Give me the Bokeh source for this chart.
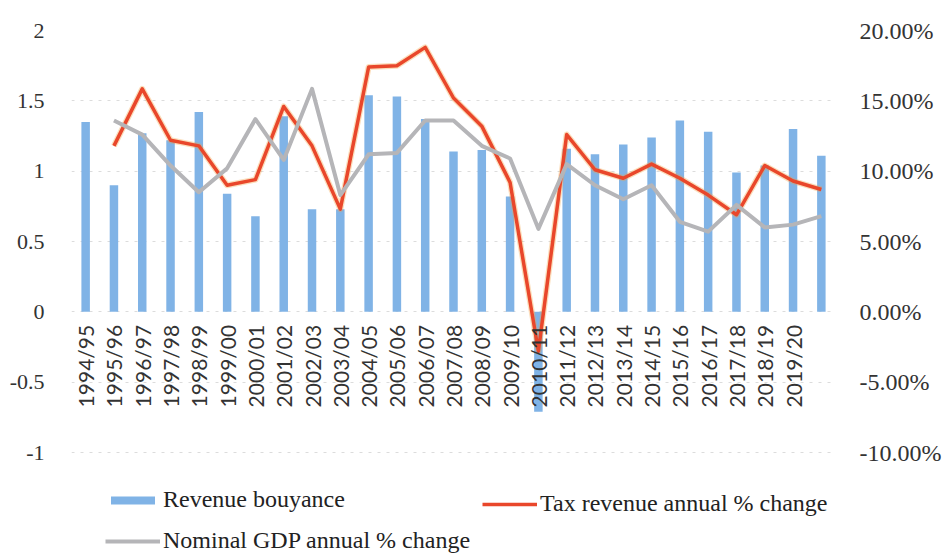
import math
from bokeh.plotting import figure
from bokeh.models import Range1d, LinearAxis, FixedTicker, Legend, LegendItem
from bokeh.core.properties import value
from bokeh.embed import file_html
from bokeh.resources import INLINE

# ---- data ----
tick_labels = ["1994/95", "1995/96", "1996/97", "1997/98", "1998/99", "1999/00",
               "2000/01", "2001/02", "2002/03", "2003/04", "2004/05", "2005/06",
               "2006/07", "2007/08", "2008/09", "2009/10", "2010/11", "2011/12",
               "2012/13", "2013/14", "2014/15", "2015/16", "2016/17", "2017/18",
               "2018/19", "2019/20"]
# 27 periods (the last one, 2020/21, carries no label in the original)
revenue_buoyancy = [1.35, 0.90, 1.27, 1.22, 1.42, 0.84, 0.68, 1.39, 0.73, 0.73,
                    1.54, 1.53, 1.37, 1.14, 1.15, 0.82, -0.71, 1.16, 1.12, 1.19,
                    1.24, 1.36, 1.28, 0.99, 1.04, 1.30, 1.11]
# lines start with 1995/96
tax_revenue_pct = [11.8, 15.85, 12.2, 11.8, 9.0, 9.4, 14.6, 11.8, 7.3, 17.4,
                   17.5, 18.8, 15.2, 13.2, 9.2, -2.8, 12.6, 10.1, 9.5, 10.5,
                   9.5, 8.3, 6.9, 10.4, 9.3, 8.7]
nominal_gdp_pct = [13.6, 12.6, 10.4, 8.5, 10.2, 13.7, 10.8, 15.85, 8.3, 11.2,
                   11.3, 13.6, 13.6, 11.8, 10.9, 5.9, 10.5, 9.0, 8.0, 9.0,
                   6.4, 5.7, 7.6, 6.0, 6.2, 6.8]
left_ticks = [-1, -0.5, 0, 0.5, 1, 1.5, 2]
left_tick_labels = ["-1", "-0.5", "0", "0.5", "1", "1.5", "2"]
right_ticks = [-10, -5, 0, 5, 10, 15, 20]
right_tick_labels = ["-10.00%", "-5.00%", "0.00%", "5.00%", "10.00%", "15.00%", "20.00%"]

bar_x = list(range(len(revenue_buoyancy)))
line_x = list(range(1, len(tax_revenue_pct) + 1))

SERIF = "Liberation Serif"
W, H = 944, 554
LEFT, RIGHT, TOP, BOTTOM_AXIS = 71, 840, 30, 452   # frame/axis pixel layout

# frame extends to the bottom of the canvas so the legend (drawn inside) is not clipped
px_per_unit = (BOTTOM_AXIS - TOP) / 3.0
y_low = -1 - (H - BOTTOM_AXIS) / px_per_unit

p = figure(width=W, height=H, output_backend="svg", toolbar_location=None,
           x_range=Range1d(-0.5, 26.5), y_range=Range1d(y_low, 2),
           x_axis_location=None,
           min_border_left=LEFT, min_border_right=W - RIGHT, min_border_top=TOP,
           min_border_bottom=0)
p.outline_line_color = None
p.background_fill_color = "white"
p.border_fill_color = "white"
p.extra_y_ranges = {"pct": Range1d(y_low * 10, 20)}

# grid
p.xgrid.visible = False
p.ygrid.ticker = FixedTicker(ticks=left_ticks)
p.ygrid.grid_line_color = "#dcdcdc"
p.ygrid.grid_line_dash = "3 6"
p.ygrid.grid_line_width = 1

# left axis
ya = p.yaxis[0]
ya.ticker = FixedTicker(ticks=left_ticks)
ya.major_label_overrides = dict(zip(left_ticks, left_tick_labels))
ya.axis_line_color = None
ya.major_tick_line_color = None
ya.minor_tick_line_color = None
ya.major_label_standoff = 21
ya.major_label_text_font = SERIF
ya.major_label_text_font_size = "22px"
ya.major_label_text_color = "#333333"

# right axis
ra = LinearAxis(y_range_name="pct", ticker=FixedTicker(ticks=right_ticks),
                major_label_overrides=dict(zip(right_ticks, right_tick_labels)))
ra.axis_line_color = None
ra.major_tick_line_color = None
ra.minor_tick_line_color = None
ra.major_label_standoff = 18
ra.major_label_text_font = SERIF
ra.major_label_text_font_size = "24px"
ra.major_label_text_color = "#333333"
p.add_layout(ra, "right")

bars = p.vbar(x=bar_x, top=revenue_buoyancy, bottom=0, width=0.3,
              fill_color="#80B3E6", line_color=None)
# faint orange halo under the red line (as in the scanned original)
p.line(line_x, tax_revenue_pct, y_range_name="pct", line_color="#F4A040",
       line_width=6, line_alpha=0.35, line_join="round")
tax = p.line(line_x, tax_revenue_pct, y_range_name="pct", line_color="#E9472B",
             line_width=3.5, line_join="round")
gdp = p.line(line_x, nominal_gdp_pct, y_range_name="pct", line_color="#B5B5B8",
             line_width=4, line_join="round")

# category labels sitting just under the zero line (vertical text)
p.text(x=list(range(len(tick_labels))), y=[0] * len(tick_labels), text=tick_labels,
       angle=math.pi / 2, text_align="right", text_baseline="middle",
       y_offset=13, text_font=value("Lato"), text_font_size="21px",
       text_color="#333333")

leg = Legend(items=[LegendItem(label="Revenue bouyance", renderers=[bars]),
                    LegendItem(label="Nominal GDP annual % change", renderers=[gdp])],
             location=(105 - LEFT, 0), orientation="vertical")
leg2 = Legend(items=[LegendItem(label="Tax revenue annual % change", renderers=[tax])],
              location=(482 - LEFT, 37), orientation="vertical")
for lg in (leg, leg2):
    lg.label_text_font = SERIF
    lg.label_text_font_size = "24px"
    lg.label_text_color = "#222222"
    lg.glyph_width = 55
    lg.glyph_height = 10
    lg.label_standoff = 3
    lg.spacing = 14
    lg.padding = 0
    lg.margin = 0
    lg.border_line_color = None
    lg.background_fill_alpha = 0
    p.add_layout(lg)

open("out.html", "w").write(file_html(p, INLINE))
